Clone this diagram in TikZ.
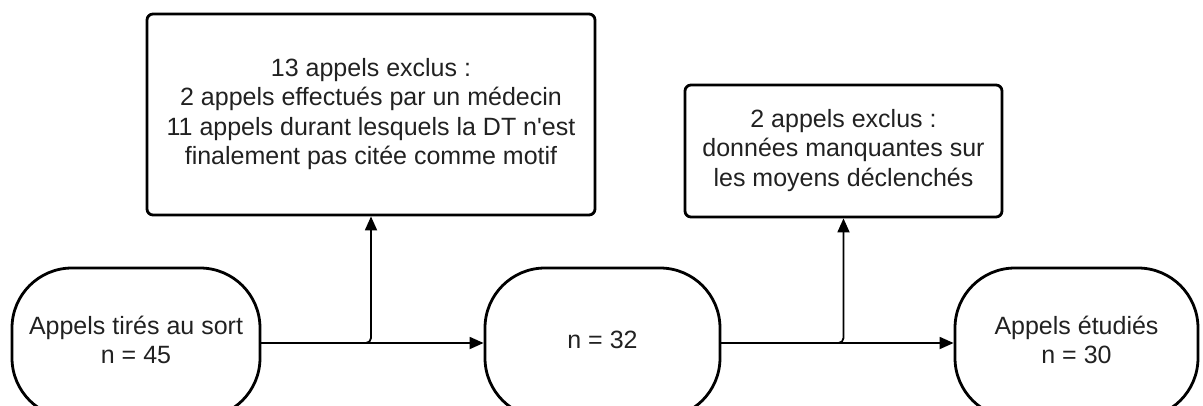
\documentclass[tikz,border=0pt]{standalone}
\usepackage{fontspec}
\setmainfont{Liberation Sans}
\usetikzlibrary{arrows.meta}
\newcommand{\mylines}[1]{\raisebox{3pt}{\begin{tabular}{@{}c@{}}#1\end{tabular}}}
\begin{document}
\begin{tikzpicture}[x=1pt,y=-1pt,
  lab/.style={font=\fontsize{25pt}{29.5pt}\selectfont, text=black!87},
  box/.style={draw, line width=2.8pt, rounded corners=6pt, inner sep=0pt, lab},
  pill/.style={draw, line width=2.8pt, rounded corners=60pt, minimum height=150pt, inner sep=0pt, lab},
  conn/.style={line width=1.8pt, -{Triangle[length=14pt,width=12pt]}}
]
\useasboundingbox (0,0) rectangle (1203,405);
\clip (0,0) rectangle (1203,405);
\node[pill, minimum width=248pt] (start) at (136,343) {\mylines{Appels tirés au sort\\n = 45}};
\node[pill, minimum width=235pt] (mid) at (602.5,343) {\mylines{n = 32}};
\node[pill, minimum width=243pt] (end) at (1076.5,343) {\mylines{Appels étudiés\\n = 30}};
\node[box, minimum width=448pt, minimum height=201pt] (ex1) at (371,114.5) {\mylines{13 appels exclus :\\2 appels effectués par un médecin\\11 appels durant lesquels la DT n\textquotesingle est\\finalement pas citée comme motif}};
\node[box, minimum width=317pt, minimum height=132pt] (ex2) at (843.5,151) {\mylines{2 appels exclus :\\données manquantes sur\\les moyens déclenchés}};
\draw[conn] (start.east) -- (mid.west);
\draw[conn, rounded corners=5pt] (start.east) -| (ex1.south);
\draw[conn] (mid.east) -- (end.west);
\draw[conn, rounded corners=5pt] (mid.east) -| (ex2.south);
\end{tikzpicture}
\end{document}
